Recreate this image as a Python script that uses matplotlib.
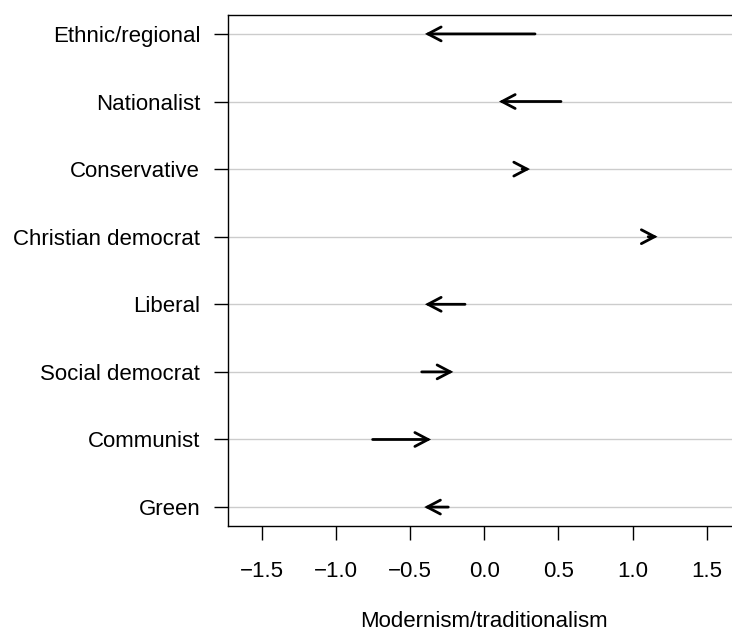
import matplotlib
matplotlib.use("Agg")
import matplotlib.pyplot as plt

# party families, top to bottom
families = ["Ethnic/regional", "Nationalist", "Conservative", "Christian democrat",
            "Liberal", "Social democrat", "Communist", "Green"]
# arrow tail (earlier) and head (later) positions on the scale
start = [0.342, 0.517, 0.255, 1.105, -0.130, -0.422, -0.753, -0.243]
end = [-0.400, 0.099, 0.308, 1.168, -0.400, -0.209, -0.359, -0.405]
xticks = [-1.5, -1.0, -0.5, 0.0, 0.5, 1.0, 1.5]

plt.rcParams['font.family'] = ['Liberation Sans', 'DejaVu Sans']

W, H = 732, 632
fig = plt.figure(figsize=(W / 100, H / 100), dpi=100)
left, right, top, bottom = 228, 740.6, 15, 526
ax = fig.add_axes([left / W, 1 - bottom / H, (right - left) / W, (bottom - top) / H])

n = len(families)
ypos = list(range(n, 0, -1))

for y in ypos:
    ax.axhline(y, color='#cccccc', lw=1.0, zorder=1)

for y, s, e in zip(ypos, start, end):
    ax.annotate("", xy=(e, y), xytext=(s, y),
                arrowprops=dict(arrowstyle='->,head_length=0.95,head_width=0.5',
                                mutation_scale=10, lw=2.0, color='black',
                                shrinkA=0, shrinkB=0, joinstyle='miter'),
                zorder=3)

ax.set_xlim(-1.728, 1.728)
ax.set_ylim(0.72, n + 0.28)
ax.set_yticks(ypos)
ax.set_yticklabels(families)
ax.set_xticks(xticks)
ax.set_xticklabels([f"{t:.1f}".replace("-", "\u2212") for t in xticks])
ax.tick_params(axis='both', labelsize=16, length=10, width=1.0, color='black')
ax.tick_params(axis='y', pad=10)
ax.tick_params(axis='x', pad=15)
for sp in ax.spines.values():
    sp.set_linewidth(1.0)
ax.set_xlabel("Modernism/traditionalism", fontsize=16, labelpad=21)

fig.savefig("out.png", dpi=100)
